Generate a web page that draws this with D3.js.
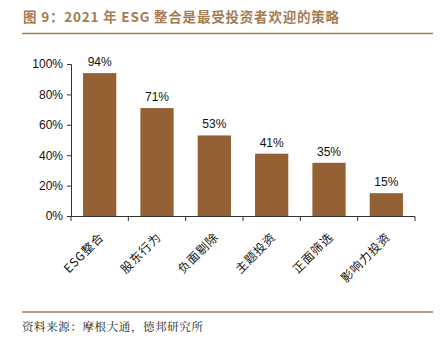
<!DOCTYPE html>
<html><head><meta charset="utf-8">
<script src="https://cdn.jsdelivr.net/npm/d3@7/dist/d3.min.js"></script>
<style>body{margin:0;background:#fff;}svg{display:block;}</style>
</head><body><svg id="c" width="440" height="355"></svg>
<script>
const categories = ["ESG整合","股东行为","负面剔除","主题投资","正面筛选","影响力投资"];
const values = [94, 71, 53, 41, 35, 15];
const yTicks = [0, 20, 40, 60, 80, 100];
const title = "图 9：2021 年 ESG 整合是最受投资者欢迎的策略";
const source = "资料来源：摩根大通，德邦研究所";

const svg = d3.select("#c");
const font = "'Noto Sans CJK SC', 'Liberation Sans', Arial, sans-serif";
const accent = "#a57c52";

svg.append("text").attr("x", 23).attr("y", 22).attr("fill", accent)
  .attr("font-family", font).attr("font-size", 13.5).attr("font-weight", "bold")
  .attr("letter-spacing", 0.8).text(title);
svg.append("line").attr("x1", 22).attr("x2", 433).attr("y1", 33.5).attr("y2", 33.5)
  .attr("stroke", accent).attr("stroke-width", 1.5);
svg.append("line").attr("x1", 22).attr("x2", 433).attr("y1", 312).attr("y2", 312)
  .attr("stroke", accent).attr("stroke-width", 1.5);
svg.append("text").attr("x", 22).attr("y", 331).attr("fill", "#222")
  .attr("font-family", "'Noto Serif CJK SC', 'Noto Sans CJK SC', serif").attr("font-size", 11.5)
  .attr("letter-spacing", 0.6).text(source);

const x = d3.scaleBand().domain(categories).range([71, 415]).paddingInner(0.42).paddingOuter(0.21);
const y = d3.scaleLinear().domain([0, 100]).range([216, 64]);

const yAxis = svg.append("g").attr("transform", "translate(71,0)")
  .call(d3.axisLeft(y).tickValues(yTicks).tickFormat(d => d + "%").tickSize(4).tickPadding(4));
yAxis.selectAll("text").attr("font-family", "'Liberation Sans', Arial, sans-serif").attr("font-size", 12).attr("fill", "#111");
yAxis.select(".domain").attr("stroke", "#333");
yAxis.selectAll(".tick line").attr("stroke", "#333");

svg.selectAll("rect.bar").data(values).join("rect").attr("class", "bar")
  .attr("x", (d, i) => x(categories[i])).attr("width", x.bandwidth())
  .attr("y", d => y(d)).attr("height", d => y(0) - y(d)).attr("fill", "#936133");

svg.selectAll("text.val").data(values).join("text").attr("class", "val")
  .attr("x", (d, i) => x(categories[i]) + x.bandwidth() / 2).attr("y", d => y(d) - 7)
  .attr("text-anchor", "middle").attr("font-family", "'Liberation Sans', Arial, sans-serif")
  .attr("font-size", 12).attr("fill", "#111").text(d => d + "%");

// x axis line and boundary ticks
const xg = svg.append("g");
xg.append("line").attr("x1", 71).attr("x2", 415).attr("y1", 216.5).attr("y2", 216.5).attr("stroke", "#333");
xg.selectAll("line.t").data(d3.range(categories.length + 1)).join("line").attr("class", "t")
  .attr("x1", i => 71 + i * (344 / categories.length)).attr("x2", i => 71 + i * (344 / categories.length))
  .attr("y1", 216.5).attr("y2", 221).attr("stroke", "#333");

xg.selectAll("text.cat").data(categories).join("text").attr("class", "cat")
  .attr("transform", d => `translate(${x(d) + x.bandwidth() / 2 - 1},${232}) rotate(-45)`)
  .attr("text-anchor", "end").attr("dy", "0.7em").attr("letter-spacing", 0.8)
  .attr("font-family", font).attr("font-size", 12).attr("fill", "#111").text(d => d);
</script></body></html>
